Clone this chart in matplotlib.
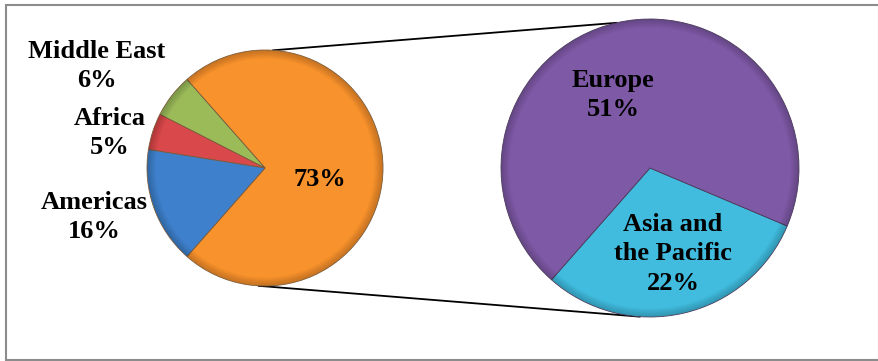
import matplotlib
matplotlib.use("Agg")
from matplotlib import pyplot as plt
import numpy as np

# outer pie: regions, inner pie: breakdown of the big slice
outer_names = ["", "Middle East", "Africa", "Americas"]
outer_vals = [73, 6, 5, 16]
outer_colors = ["#F7922C", "#9BBB59", "#D9484A", "#3F80CC"]

inner_names = ["Asia and\nthe Pacific", "Europe"]
inner_vals = [22, 51]
inner_colors = ["#41BCDE", "#7E59A6"]

W, H = 879, 361
fig = plt.figure(figsize=(W / 100, H / 100), dpi=100)
ax = fig.add_axes([0, 0, 1, 1])

FONT = dict(family=["Liberation Serif", "DejaVu Serif"], fontweight="bold", fontsize=19,
            ha="center", va="center", linespacing=1.35)

c1, r1 = (265, 193), 118
c2, r2 = (650, 193), 149
start = -outer_vals[0] / sum(outer_vals) * 180

ax.pie(outer_vals, colors=outer_colors, center=c1, radius=r1, startangle=start,
       wedgeprops=dict(edgecolor="#7a5a3a", linewidth=0.6))
ax.pie(inner_vals, colors=inner_colors, center=c2, radius=r2, startangle=start,
       wedgeprops=dict(edgecolor="#4a3a5a", linewidth=0.6))

# soft darker rim for a slight bevel look
for c, r in [(c1, r1), (c2, r2)]:
    for k in range(1, 9):
        ax.pie([1], colors=["black"], center=c, radius=r - 0.5, startangle=0,
               wedgeprops=dict(width=k, alpha=0.025, linewidth=0))

# connector lines between the two pies
def rim(c, r, deg):
    t = np.radians(deg)
    return c[0] + r * np.cos(t), c[1] + r * np.sin(t)

for a1, a2 in [(86, 103), (-93, -94)]:
    x1, y1 = rim(c1, r1, a1)
    x2, y2 = rim(c2, r2, a2)
    ax.plot([x1, x2], [y1, y2], color="black", linewidth=1.3, zorder=0)

# labels
ax.text(320, 181, f"{outer_vals[0]}%", **FONT)
ax.text(97, 295, f"{outer_names[1]}\n{outer_vals[1]}%", **FONT)
ax.text(110, 228, f"{outer_names[2]}\n{outer_vals[2]}%", **FONT)
ax.text(94, 144, f"{outer_names[3]}\n{outer_vals[3]}%", **FONT)
ax.text(613, 266, f"{inner_names[1]}\n{inner_vals[1]}%", **FONT)
ax.text(673, 107, f"{inner_names[0]}\n{inner_vals[0]}%", **FONT)

# frame around the chart area
ax.add_patch(plt.Rectangle((6, 1), W - 6, H - 6, fill=False, edgecolor="#8c8c8c", linewidth=1.5))

ax.set_xlim(0, W)
ax.set_ylim(0, H)
ax.set_aspect("equal")
ax.axis("off")

fig.savefig("out.png", dpi=100)
